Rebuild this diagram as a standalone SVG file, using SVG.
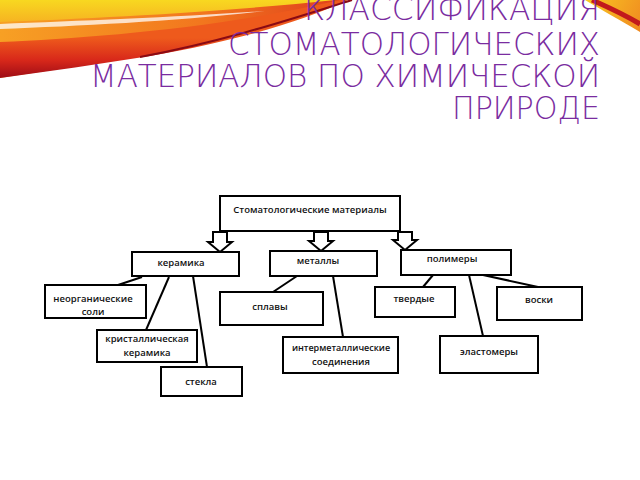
<svg xmlns="http://www.w3.org/2000/svg" width="640" height="480" viewBox="0 0 640 480">
<defs>
<linearGradient id="gOr" x1="0" y1="0" x2="340" y2="0" gradientUnits="userSpaceOnUse">
<stop offset="0" stop-color="#F7A024"/><stop offset="0.6" stop-color="#F2761E"/><stop offset="1" stop-color="#E0401C"/>
</linearGradient>
<linearGradient id="gYe" x1="0" y1="0" x2="0" y2="24" gradientUnits="userSpaceOnUse">
<stop offset="0" stop-color="#F8D820"/><stop offset="1" stop-color="#F6B022"/>
</linearGradient>
<linearGradient id="gRe" x1="0" y1="38" x2="0" y2="78" gradientUnits="userSpaceOnUse">
<stop offset="0" stop-color="#EE5A1C"/><stop offset="0.55" stop-color="#D8281A"/><stop offset="1" stop-color="#9E0C16"/>
</linearGradient>
<linearGradient id="gTR" x1="585" y1="0" x2="640" y2="30" gradientUnits="userSpaceOnUse">
<stop offset="0" stop-color="#F8C822"/><stop offset="1" stop-color="#F08A20"/>
</linearGradient>
<style>
.title{font-family:"DejaVu Sans","Noto Sans",sans-serif;font-weight:200;font-size:32px;fill:#7A2CA0;text-anchor:end}
.box{fill:#fff;stroke:#000;stroke-width:2}
.arr{fill:#fff;stroke:#000;stroke-width:2;stroke-linejoin:miter}
.lbl{font-family:"Open Sans","DejaVu Sans",sans-serif;font-weight:600;font-size:9.5px;fill:#111;text-anchor:middle}
.sm{font-size:9px}
.ln{stroke:#000;stroke-width:2;fill:none}
</style>
</defs>
<g id="swoosh">
<path d="M0,0 L345,0 C300,20 240,38 150,55 C100,63 50,70 0,78 Z" fill="url(#gOr)"/>
<path d="M0,0 L335,0 C250,9 150,16 0,22 Z" fill="url(#gYe)"/>
<path d="M0,24 C80,21 180,17 265,11 C180,21 80,26 0,29 Z" fill="#fff" opacity="0.75"/>
<path d="M0,42 C90,38 220,28 340,0 L348,0 C300,22 240,40 150,56 C100,64 50,71 0,78 Z" fill="url(#gRe)"/>
<path d="M140,57 C230,40 300,16 352,0" stroke="#8A0A14" stroke-width="2" fill="none"/>
<path d="M585,0 L640,0 L640,32 C620,20 600,9 585,0 Z" fill="url(#gTR)"/>
<path d="M592,0 C610,8 625,15 640,24" stroke="#C21A1C" stroke-width="5" fill="none"/>
</g>
<g id="title">
<text class="title" x="600" y="20" textLength="296" lengthAdjust="spacingAndGlyphs">КЛАССИФИКАЦИЯ</text>
<text class="title" x="600" y="55" textLength="372" lengthAdjust="spacingAndGlyphs">СТОМАТОЛОГИЧЕСКИХ</text>
<text class="title" x="600" y="87" textLength="510" lengthAdjust="spacingAndGlyphs">МАТЕРИАЛОВ ПО ХИМИЧЕСКОЙ</text>
<text class="title" x="600" y="119" textLength="148" lengthAdjust="spacingAndGlyphs">ПРИРОДЕ</text>
</g>
<g id="connectors">
<line class="ln" x1="142" y1="277" x2="118" y2="285"/>
<line class="ln" x1="169" y1="277" x2="146" y2="330"/>
<line class="ln" x1="193" y1="276" x2="207" y2="367"/>
<line class="ln" x1="297" y1="276" x2="273" y2="292"/>
<line class="ln" x1="333" y1="276" x2="343" y2="337"/>
<line class="ln" x1="433" y1="275" x2="423" y2="287"/>
<line class="ln" x1="469" y1="275" x2="483" y2="336"/>
<line class="ln" x1="483" y1="275" x2="538" y2="287"/>
</g>
<g id="root"><rect class="box" x="220" y="196" width="180" height="35"/><text class="lbl" x="310" y="213">Стоматологические материалы</text></g>
<g id="arrows">
<polygon class="arr" points="213,232 227,232 227,242 232,242 220,252 208,242 213,242"/>
<polygon class="arr" points="314,232 328,232 328,241 333,241 321,251 309,241 314,241"/>
<polygon class="arr" points="398,232 412,232 412,240 417,240 405,250 393,240 398,240"/>
</g>
<g id="keramika"><rect class="box" x="132" y="252" width="107" height="24"/><text class="lbl" x="181" y="266">керамика</text></g>
<g id="metally"><rect class="box" x="270" y="251" width="107" height="25"/><text class="lbl" x="318" y="264">металлы</text></g>
<g id="polimery"><rect class="box" x="401" y="250" width="110" height="25"/><text class="lbl" x="452" y="262">полимеры</text></g>
<g id="neorg"><rect class="box" x="45" y="285" width="101" height="33"/><text class="lbl" x="93" y="302">неорганические</text><text class="lbl" x="93" y="315">соли</text></g>
<g id="krist"><rect class="box" x="97" y="330" width="100" height="32"/><text class="lbl" x="147" y="342">кристаллическая</text><text class="lbl" x="147" y="356">керамика</text></g>
<g id="stekla"><rect class="box" x="161" y="367" width="81" height="29"/><text class="lbl" x="201" y="385">стекла</text></g>
<g id="splavy"><rect class="box" x="220" y="292" width="103" height="33"/><text class="lbl" x="270" y="310">сплавы</text></g>
<g id="intermet"><rect class="box" x="283" y="337" width="115" height="36"/><text class="lbl sm" x="341" y="351">интерметаллические</text><text class="lbl" x="341" y="365">соединения</text></g>
<g id="tverdye"><rect class="box" x="375" y="287" width="80" height="30"/><text class="lbl" x="414" y="302">твердые</text></g>
<g id="voski"><rect class="box" x="497" y="287" width="85" height="33"/><text class="lbl" x="539" y="303">воски</text></g>
<g id="elast"><rect class="box" x="440" y="336" width="98" height="37"/><text class="lbl" x="489" y="355">эластомеры</text></g>
</svg>
